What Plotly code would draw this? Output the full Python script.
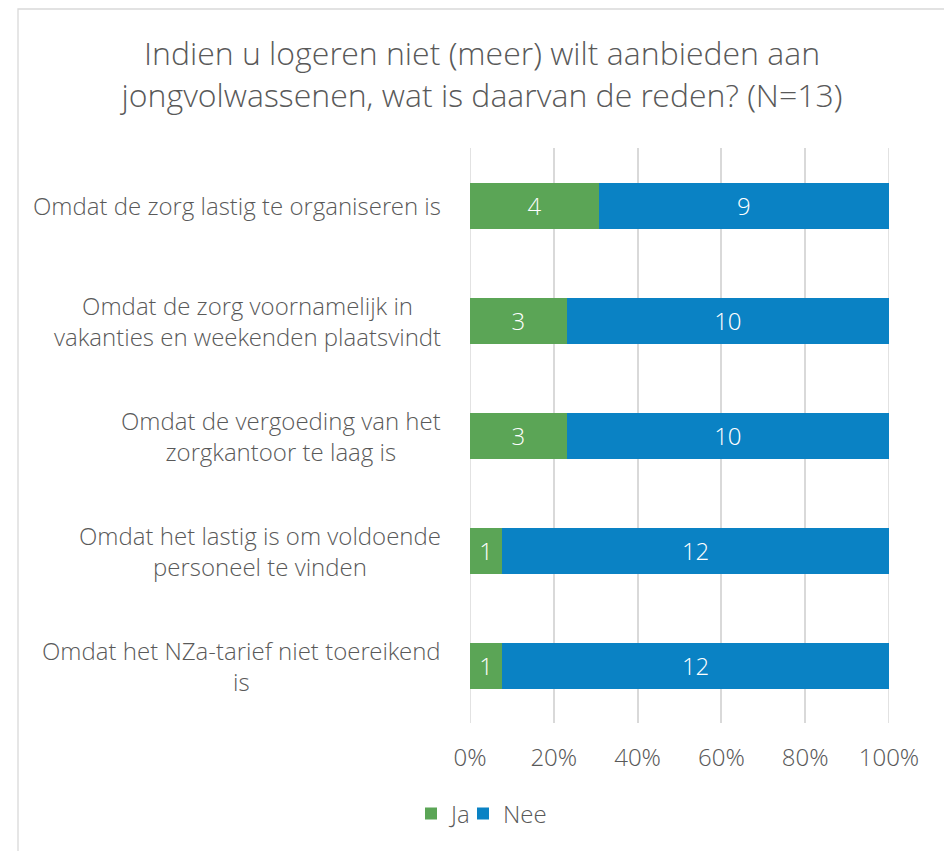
import plotly.graph_objects as go

# categories top to bottom as in the reference
categories = [
    "Omdat de zorg lastig te organiseren is",
    "Omdat de zorg voornamelijk in<br>vakanties en weekenden plaatsvindt",
    "Omdat de vergoeding van het<br>zorgkantoor te laag is",
    "Omdat het lastig is om voldoende<br>personeel te vinden",
    "Omdat het NZa-tarief niet toereikend<br>is",
]
ja = [4, 3, 3, 1, 1]
nee = [9, 10, 10, 12, 12]
tick_vals = [0, 20, 40, 60, 80, 100]
tick_text = ["0%", "20%", "40%", "60%", "80%", "100%"]

title_text = ("Indien u logeren niet (meer) wilt aanbieden aan<br>"
              "jongvolwassenen, wat is daarvan de reden? (N=13)")

GREEN = "#5BA556"
BLUE = "#0A82C4"
GREY = "#595959"
GRID = "#D9D9D9"
FONT = "Open Sans Light, Open Sans"

# page has an 8px body margin, so figure coords = page coords - 8
W, H = 944, 843
L, R, T, B = 462, 63, 140, 128
pw = W - L - R
ph = H - T - B

fig = go.Figure()
for name, vals, col, leg in [("Ja", ja, GREEN, "legend"), ("Nee", nee, BLUE, "legend2")]:
    fig.add_trace(go.Bar(
        y=categories, x=vals, name=name, orientation="h",
        marker=dict(color=col, line=dict(width=0)),
        text=[str(v) for v in vals], textposition="inside",
        insidetextanchor="middle",
        textfont=dict(color="white", size=24, family=FONT, weight=300),
        hoverinfo="skip", legend=leg,
    ))

# category labels as centred annotations
for c in categories:
    fig.add_annotation(
        x=0, y=c, xref="paper", yref="y", text=c, showarrow=False,
        xanchor="right", xshift=-27, align="center",
        font=dict(size=24, color=GREY, family=FONT, weight=300),
    )

# plotly drops the gridlines on the range edges, add them back
for v in (tick_vals[0], tick_vals[-1]):
    fig.add_shape(type="line", xref="x", yref="paper", x0=v, x1=v, y0=0, y1=1,
                  line=dict(color=GRID, width=1.5), layer="below")

# chart border
fig.add_shape(
    type="rect", xref="paper", yref="paper",
    x0=(10 - L) / pw, x1=(939 - L) / pw,
    y0=(H - B - 860) / ph, y1=(H - B - 1) / ph,
    line=dict(color=GRID, width=1.3), layer="below",
)

leg_style = dict(orientation="h", xanchor="left", yanchor="middle", yref="paper",
                 y=(H - B - 806) / ph,
                 font=dict(size=24, color=GREY, family=FONT, weight=300),
                 itemwidth=30, bgcolor="rgba(0,0,0,0)")

fig.update_layout(
    width=W, height=H,
    barmode="stack", barnorm="percent", bargap=0.6,
    margin=dict(l=L, r=R, t=T, b=B),
    plot_bgcolor="white", paper_bgcolor="white",
    font=dict(family=FONT, color=GREY, size=24, weight=300),
    title=dict(text=title_text, x=474 / W, xref="container", xanchor="center",
               y=1 - 57 / H, yref="container", yanchor="top",
               font=dict(size=32, color=GREY, family=FONT, weight=300)),
    xaxis=dict(range=[0, 100], tickvals=tick_vals, ticktext=tick_text,
               showgrid=True, gridcolor=GRID, gridwidth=1.5,
               zeroline=False, showline=False, ticks="",
               ticklabelstandoff=18,
               tickfont=dict(size=24, color=GREY, family=FONT, weight=300)),
    yaxis=dict(autorange="reversed", showticklabels=False, showgrid=False,
               zeroline=False, ticks=""),
    legend=dict(x=(403 - L) / pw, **leg_style),
    legend2=dict(x=(455 - L) / pw, **leg_style),
    showlegend=True,
)

fig.write_html("out.html")
